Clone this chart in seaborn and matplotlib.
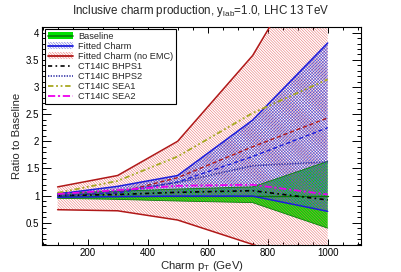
import numpy as np
import pandas as pd
import matplotlib
matplotlib.use("Agg")
import matplotlib.pyplot as plt
import seaborn as sns
from matplotlib.patches import Patch
from matplotlib.lines import Line2D
from matplotlib.ticker import MultipleLocator, FuncFormatter

# ---------------- data ----------------
pt = [100, 300, 500, 750, 1000]

baseline_c = [1.00, 1.00, 1.00, 1.00, 1.00]
baseline_up = [1.05, 1.08, 1.12, 1.16, 1.63]
baseline_lo = [0.95, 0.93, 0.90, 0.87, 0.40]

fit_c = [1.00, 1.05, 1.25, 1.72, 2.25]
fit_up = [1.03, 1.17, 1.37, 2.39, 3.81]
fit_lo = [0.97, 0.98, 0.99, 0.99, 0.71]

noemc_c = [1.00, 1.05, 1.33, 1.90, 2.43]
noemc_up = [1.16, 1.37, 2.00, 3.58, 5.90]
noemc_lo = [0.74, 0.72, 0.55, 0.10, -0.40]

bhps1 = [1.00, 1.02, 1.06, 1.09, 0.92]
bhps2 = [1.00, 1.08, 1.24, 1.55, 1.62]
sea1 = [1.05, 1.27, 1.72, 2.52, 3.14]
sea2 = [1.03, 1.10, 1.18, 1.20, 1.02]

labels = ["Baseline", "Fitted Charm", "Fitted Charm (no EMC)",
          "CT14IC BHPS1", "CT14IC BHPS2", "CT14IC SEA1", "CT14IC SEA2"]

# ---------------- style ----------------
sns.set_style("ticks")
plt.rcParams["font.family"] = ["Liberation Sans", "DejaVu Sans"]
plt.rcParams["mathtext.fontset"] = "custom"
plt.rcParams["mathtext.rm"] = "Liberation Sans"
plt.rcParams["mathtext.it"] = "Liberation Sans:italic"
plt.rcParams["hatch.linewidth"] = 0.35

GREEN = "#00e000"
DGREEN = "#0a7a0a"
BLUE = "#1c1cdc"
RED = "#b01818"
RED_H = "#e86060"
BLUE_H = "#5050d8"
OLIVE = "#a8a820"
MAGENTA = "#ee00ee"
NAVY = "#3838a8"

RED_HATCH = "\\" * 12
BLUE_HATCH = "x" * 11

fig = plt.figure(figsize=(4.01, 2.72), dpi=100)
ax = fig.add_axes([42 / 401, 1 - 245 / 272, 319 / 401, 218.3 / 272])

# bands
ax.fill_between(pt, baseline_lo, baseline_up, facecolor=GREEN, edgecolor="none", linewidth=0, zorder=1)
ax.fill_between(pt, noemc_lo, noemc_up, facecolor="none", edgecolor=RED_H, hatch=RED_HATCH, linewidth=0, zorder=2)
ax.fill_between(pt, fit_lo, fit_up, facecolor="none", edgecolor=BLUE_H, hatch=BLUE_HATCH, linewidth=0, zorder=3)

def line(y, color, lw, ls, z=5):
    sns.lineplot(x=pt, y=y, ax=ax, color=color, linewidth=lw, linestyle=ls,
                 zorder=z, legend=False)

# band edges and centrals
line(baseline_lo, DGREEN, 0.6, "-")
line(baseline_up, DGREEN, 0.6, "-")
line(baseline_c, DGREEN, 1.0, "-")
line(noemc_up, RED, 1.1, "-")
line(noemc_lo, RED, 1.1, "-")
line(noemc_c, RED, 1.0, (0, (3, 2)))
line(fit_up, BLUE, 1.1, "-")
line(fit_lo, BLUE, 1.1, "-")
line(fit_c, BLUE, 1.0, (0, (3, 2)))

# CT14IC curves
line(bhps1, "black", 1.2, (0, (2.5, 2, 1, 2)), 6)
line(bhps2, NAVY, 1.2, (0, (0.8, 0.8)), 6)
line(sea1, OLIVE, 1.3, (0, (3, 1.5, 1, 1.5, 1, 1.5)), 6)
line(sea2, MAGENTA, 1.3, (0, (4, 1.5, 1.2, 1.5)), 6)

# axes
ax.set_xlim(48, 1111)
ax.set_ylim(0.09, 4.11)
ax.xaxis.set_major_locator(MultipleLocator(200))
ax.xaxis.set_minor_locator(MultipleLocator(50))
ax.yaxis.set_major_locator(MultipleLocator(0.5))
ax.yaxis.set_minor_locator(MultipleLocator(0.1))
ax.yaxis.set_major_formatter(FuncFormatter(lambda v, p: f"{v:g}"))
ax.tick_params(which="both", direction="in", top=True, right=True,
               labelsize=7, width=0.7, colors="black")
ax.tick_params(axis="y", which="major", length=6.5, pad=2)
ax.tick_params(axis="y", which="minor", length=3.2)
ax.tick_params(axis="x", which="major", length=4.3, pad=2)
ax.tick_params(axis="x", which="minor", length=2.2)
for s in ax.spines.values():
    s.set_linewidth(0.8)
    s.set_color("black")
    s.set_visible(True)

ax.set_xlabel(r"Charm p$_{\mathrm{T}}$ (GeV)", fontsize=8.2, labelpad=1)
ax.set_ylabel("Ratio to Baseline", fontsize=8.2, labelpad=3)

fig.text(0.5, 1 - 11 / 272, r"Inclusive charm production, $\mathrm{y}_{\mathrm{lab}}$=1.0, LHC 13 TeV",
         ha="center", va="center", fontsize=8.4)

# legend
handles = [
    (Patch(facecolor=GREEN, edgecolor="none"), Line2D([], [], color=DGREEN, lw=1.2)),
    (Patch(facecolor="none", edgecolor=BLUE_H, hatch=RED_HATCH, lw=0), Line2D([], [], color=BLUE, lw=1.3)),
    (Patch(facecolor="none", edgecolor=RED_H, hatch=RED_HATCH, lw=0), Line2D([], [], color=RED, lw=1.3)),
    Line2D([], [], color="black", lw=1.2, linestyle=(0, (2.5, 2, 1, 2))),
    Line2D([], [], color=NAVY, lw=1.2, linestyle=(0, (0.8, 0.8))),
    Line2D([], [], color=OLIVE, lw=1.3, linestyle=(0, (3, 1.5, 1, 1.5, 1, 1.5))),
    Line2D([], [], color=MAGENTA, lw=1.3, linestyle=(0, (4, 1.5, 1.2, 1.5))),
]
leg = ax.legend(handles, labels, loc="upper left", bbox_to_anchor=(0.0094, 0.989),
                borderaxespad=0, fontsize=6.6, frameon=True, fancybox=False,
                edgecolor="black", framealpha=1, labelspacing=0.11,
                handlelength=2.7, handleheight=0.8, handletextpad=0.6,
                borderpad=0.32)
leg.get_frame().set_linewidth(0.8)
leg.set_zorder(10)

fig.savefig("out.png", dpi=100)
